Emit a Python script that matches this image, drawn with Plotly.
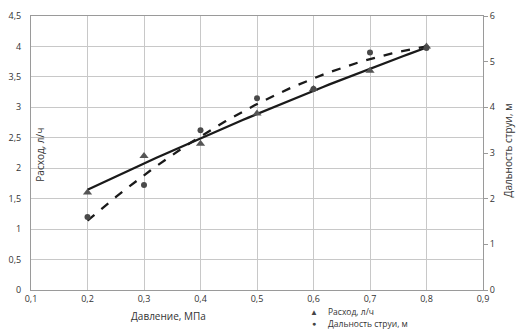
import numpy as np
import plotly.graph_objects as go

pressure = [0.2, 0.3, 0.4, 0.5, 0.6, 0.7, 0.8]
flow = [1.6, 2.2, 2.4, 2.9, 3.3, 3.6, 4.0]          # Расход, л/ч (left axis)
jet = [1.6, 2.3, 3.5, 4.2, 4.4, 5.2, 5.3]            # Дальность струи, м (right axis)
x_ticks = [0.1, 0.2, 0.3, 0.4, 0.5, 0.6, 0.7, 0.8, 0.9]

# polynomial trend lines fitted from the data
xs = np.linspace(min(pressure), max(pressure), 60)
flow_fit = np.polyval(np.polyfit(pressure, flow, 2), xs)
jet_fit = np.polyval(np.polyfit(pressure, jet, 2), xs)

FONT = "Open Sans"
fig = go.Figure()
fig.add_trace(go.Scatter(x=xs, y=flow_fit, mode="lines", line=dict(color="#1a1a1a", width=2.3),
                         showlegend=False, hoverinfo="skip"))
fig.add_trace(go.Scatter(x=xs, y=jet_fit, mode="lines", yaxis="y2",
                         line=dict(color="#1a1a1a", width=2.3, dash="dash"),
                         showlegend=False, hoverinfo="skip"))
fig.add_trace(go.Scatter(x=pressure, y=flow, mode="markers", name="Расход, л/ч",
                         marker=dict(symbol="triangle-up", size=8, color="#555555"), showlegend=False))
fig.add_trace(go.Scatter(x=pressure, y=jet, mode="markers", yaxis="y2", name="Дальность струи, м",
                         marker=dict(symbol="circle", size=6, color="#4a4a4a"), showlegend=False))

fig.update_layout(
    width=524, height=335,
    margin=dict(l=26, r=41, t=9, b=45),
    paper_bgcolor="white", plot_bgcolor="white",
    separators=", ",
    font=dict(family=FONT, size=9, color="#333333"),
    xaxis=dict(range=[0.1, 0.9], tickvals=x_ticks, showgrid=True, gridcolor="#c8c8c8",
               gridwidth=1, zeroline=False, showline=True, linecolor="#9a9a9a", mirror=True,
               ticks="", tickfont=dict(size=9)),
    yaxis=dict(range=[0, 4.5], dtick=0.5, showgrid=True, gridcolor="#c8c8c8", zeroline=False,
               showline=True, linecolor="#9a9a9a", ticks="", ticklabelstandoff=7,
               tickfont=dict(size=9)),
    yaxis2=dict(range=[0, 6], dtick=1, overlaying="y", side="right", showgrid=False,
                zeroline=False, showline=True, linecolor="#9a9a9a", ticks="outside",
                ticklen=4, tickcolor="#9a9a9a", tickfont=dict(size=9)),
    showlegend=False,
)

ann = [
    dict(text="Давление, МПа", x=0.304, y=-0.094, xanchor="center", yanchor="middle",
         xref="paper", yref="paper", showarrow=False, font=dict(size=10)),
    dict(text="Расход, л/ч", x=0.02, y=0.494, xanchor="center", yanchor="middle",
         xref="paper", yref="paper", textangle=-90, showarrow=False, font=dict(size=10)),
    dict(text="Дальность струи, м", x=1.055, y=0.509, xanchor="center", yanchor="middle",
         xref="paper", yref="paper", textangle=-90, showarrow=False, font=dict(size=10)),
    dict(text="▲", x=0.627, y=-0.078, xanchor="center", yanchor="middle", borderpad=0,
         xref="paper", yref="paper", showarrow=False, font=dict(size=8, color="#444444")),
    dict(text="Расход, л/ч", x=0.654, y=-0.078, xanchor="left", yanchor="middle", borderpad=0,
         xref="paper", yref="paper", showarrow=False, font=dict(size=8.5)),
    dict(text="●", x=0.627, y=-0.123, xanchor="center", yanchor="middle", borderpad=0,
         xref="paper", yref="paper", showarrow=False, font=dict(size=7, color="#444444")),
    dict(text="Дальность струи, м", x=0.654, y=-0.123, xanchor="left", yanchor="middle",
         borderpad=0, xref="paper", yref="paper", showarrow=False, font=dict(size=8.5)),
]
fig.update_layout(annotations=ann)

fig.write_html("out.html", config={"displayModeBar": False},
               post_script="document.body.style.margin='0';")
